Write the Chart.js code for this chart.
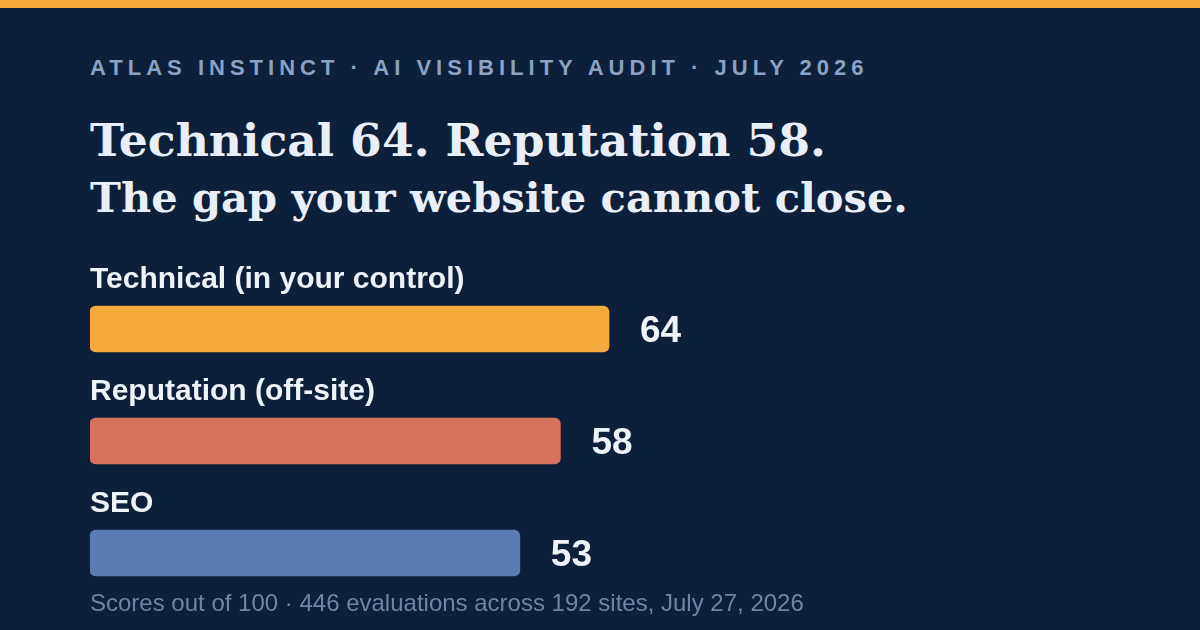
<!DOCTYPE html>
<html>
<head>
<meta charset="utf-8">
<script src="https://cdn.jsdelivr.net/npm/chart.js@4.4.1/dist/chart.umd.min.js"></script>
<style>
  html, body { margin: 0; padding: 0; }
  body { width: 1200px; height: 630px; background: #0c1f3b; position: relative; overflow: hidden; }
  #stripe { position: absolute; left: 0; top: 0; width: 1200px; height: 8px; background: #f4aa3c; }
  .t { position: absolute; left: 90px; white-space: nowrap; line-height: 1; margin: 0; }
  #kicker { font-family: "Liberation Sans", Arial, sans-serif; font-weight: 700; font-size: 22px; color: #8aa2c4; }
  #h1, #h2 { font-family: "DejaVu Serif", Georgia, serif; font-weight: 700; color: #e9eff8; }
  #foot { font-family: "Liberation Sans", Arial, sans-serif; font-size: 24px; color: #6f85a5; }
  #wrap { position: absolute; left: 0; top: 0; width: 1200px; height: 630px; }
</style>
</head>
<body>
<div id="stripe"></div>
<div id="kicker" class="t">ATLAS INSTINCT · AI VISIBILITY AUDIT · JULY 2026</div>
<div id="h1" class="t">Technical 64. Reputation 58.</div>
<div id="h2" class="t">The gap your website cannot close.</div>
<div id="wrap"><canvas id="c" width="1200" height="630"></canvas></div>
<div id="foot" class="t">Scores out of 100 · 446 evaluations across 192 sites, July 27, 2026</div>
<script>
const categories = ["Technical (in your control)", "Reputation (off-site)", "SEO"];
const scores = [64, 58, 53];
const barColors = ["#f4aa3c", "#d9725d", "#5b7db2"];
const scaleMax = 100;

// --- text layout helpers ---
const mc = document.createElement("canvas").getContext("2d");
function place(el, baseline) {
  const fs = parseFloat(getComputedStyle(el).fontSize);
  el.style.top = (baseline - 0.846 * fs) + "px";
}
function fitSize(el, family, weight, target) {
  mc.font = weight + " 100px " + family;
  const w = mc.measureText(el.textContent).width;
  el.style.fontSize = (100 * target / w) + "px";
}
function fitSpacing(el, family, weight, size, target) {
  mc.font = weight + " " + size + "px " + family;
  const txt = el.textContent;
  const w = mc.measureText(txt).width;
  el.style.letterSpacing = ((target - w) / (txt.length - 1)) + "px";
}
function layoutText() {
  const k = document.getElementById("kicker");
  fitSpacing(k, '"Liberation Sans"', "700", 22, 776);
  place(k, 76);
  const h1 = document.getElementById("h1");
  fitSize(h1, '"DejaVu Serif"', "700", 736);
  place(h1, 157);
  const h2 = document.getElementById("h2");
  fitSize(h2, '"DejaVu Serif"', "700", 818);
  place(h2, 212);
  const f = document.getElementById("foot");
  place(f, 611);
}

const labelPlugin = {
  id: "labels",
  afterDatasetsDraw(chart) {
    const ctx = chart.ctx;
    const meta = chart.getDatasetMeta(0);
    ctx.save();
    meta.data.forEach((bar, i) => {
      ctx.fillStyle = "#eef3fa";
      ctx.textAlign = "left";
      ctx.textBaseline = "alphabetic";
      ctx.font = '700 30px "Liberation Sans", Arial, sans-serif';
      ctx.fillText(categories[i], chart.chartArea.left, bar.y - 41);
      ctx.font = '700 37px "Liberation Sans", Arial, sans-serif';
      ctx.fillText(String(scores[i]), bar.x + 31, bar.y + 13);
    });
    ctx.restore();
  }
};

function draw() {
  layoutText();
  new Chart(document.getElementById("c"), {
    type: "bar",
    data: {
      labels: categories,
      datasets: [{
        data: scores,
        backgroundColor: barColors,
        borderRadius: 6,
        borderSkipped: false,
        barThickness: 46
      }]
    },
    options: {
      indexAxis: "y",
      responsive: false,
      devicePixelRatio: 1,
      animation: false,
      layout: { padding: { left: 90, right: 299, top: 273, bottom: 21 } },
      scales: {
        x: { display: false, min: 0, max: scaleMax },
        y: { display: false }
      },
      plugins: { legend: { display: false }, tooltip: { enabled: false } }
    },
    plugins: [labelPlugin]
  });
}
if (document.fonts && document.fonts.load) {
  Promise.all([
    document.fonts.load('700 20px "Liberation Sans"'),
    document.fonts.load('400 20px "Liberation Sans"'),
    document.fonts.load('700 40px "DejaVu Serif"')
  ]).then(draw, draw);
} else { draw(); }
</script>
</body>
</html>
